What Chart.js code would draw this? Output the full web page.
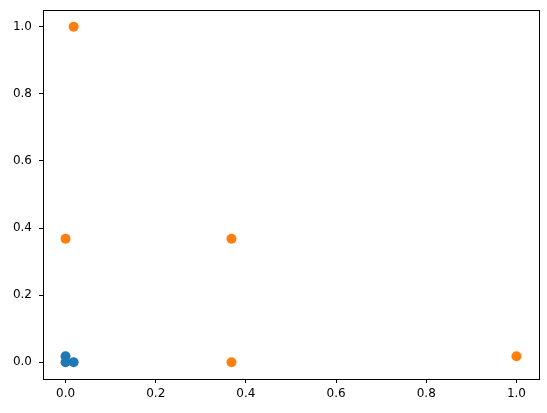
<!DOCTYPE html>
<html>
<head>
<meta charset="utf-8">
<script src="https://cdn.jsdelivr.net/npm/chart.js"></script>
<style>
  html, body { margin: 0; padding: 0; background: #fff; }
  #wrap { width: 547px; height: 413px; }
</style>
</head>
<body>
<div id="wrap"><canvas id="grafico"></canvas></div>
<script>
// data
const serieAzulX = [0, 0, 0.018];
const serieAzulY = [0.018, 0, 0];
const serieNaranjaX = [0.018, 0, 0.368, 0.368, 1.0];
const serieNaranjaY = [1.0, 0.368, 0.368, 0, 0.018];
const ticksX = [0, 0.2, 0.4, 0.6, 0.8, 1.0];
const ticksY = [0, 0.2, 0.4, 0.6, 0.8, 1.0];

const puntos = (xs, ys) => xs.map((x, i) => ({ x: x, y: ys[i] }));

// draws the box around the plot area
const marco = {
    id: "marco",
    afterDraw(chart) {
        const { ctx, chartArea: a } = chart;
        ctx.save();
        ctx.strokeStyle = "#000";
        ctx.lineWidth = 1;
        ctx.strokeRect(Math.round(a.left) + 0.5, Math.round(a.top) + 0.5,
            Math.round(a.right - a.left), Math.round(a.bottom - a.top));
        ctx.restore();
    }
};

// fixed axis sizes, no extra overhang padding
const fijar = (s, tam) => {
    if (s.isHorizontal()) s.height = tam; else s.width = tam;
    s.paddingTop = 0; s.paddingBottom = 0; s.paddingLeft = 0; s.paddingRight = 0;
};

const ejeComun = {
    type: "linear",
    min: -0.05,
    max: 1.05,
    border: { display: false },
    grid: { drawOnChartArea: false, drawTicks: true, tickLength: 4, color: "#000", tickWidth: 1 },
    ticks: {
        color: "#000",
        font: { family: "DejaVu Sans", size: 12 },
        callback: v => v.toFixed(1)
    }
};

new Chart(document.getElementById("grafico"), {
    type: "scatter",
    data: {
        datasets: [
            { data: puntos(serieAzulX, serieAzulY), backgroundColor: "#1f77b4", borderWidth: 0, pointRadius: 5 },
            { data: puntos(serieNaranjaX, serieNaranjaY), backgroundColor: "#ff7f0e", borderWidth: 0, pointRadius: 5 }
        ]
    },
    options: {
        responsive: true,
        maintainAspectRatio: false,
        animation: false,
        layout: { padding: { top: 10, right: 8, left: 0, bottom: 0 } },
        plugins: { legend: { display: false }, tooltip: { enabled: false } },
        scales: {
            x: Object.assign({}, ejeComun, {
                ticks: Object.assign({}, ejeComun.ticks, { padding: 4 }),
                afterBuildTicks: s => { s.ticks = ticksX.map(v => ({ value: v })); },
                afterFit: s => fijar(s, 34)
            }),
            y: Object.assign({}, ejeComun, {
                ticks: Object.assign({}, ejeComun.ticks, { padding: 7 }),
                afterBuildTicks: s => { s.ticks = ticksY.map(v => ({ value: v })); },
                afterFit: s => fijar(s, 43)
            })
        }
    },
    plugins: [marco]
});
</script>
</body>
</html>
